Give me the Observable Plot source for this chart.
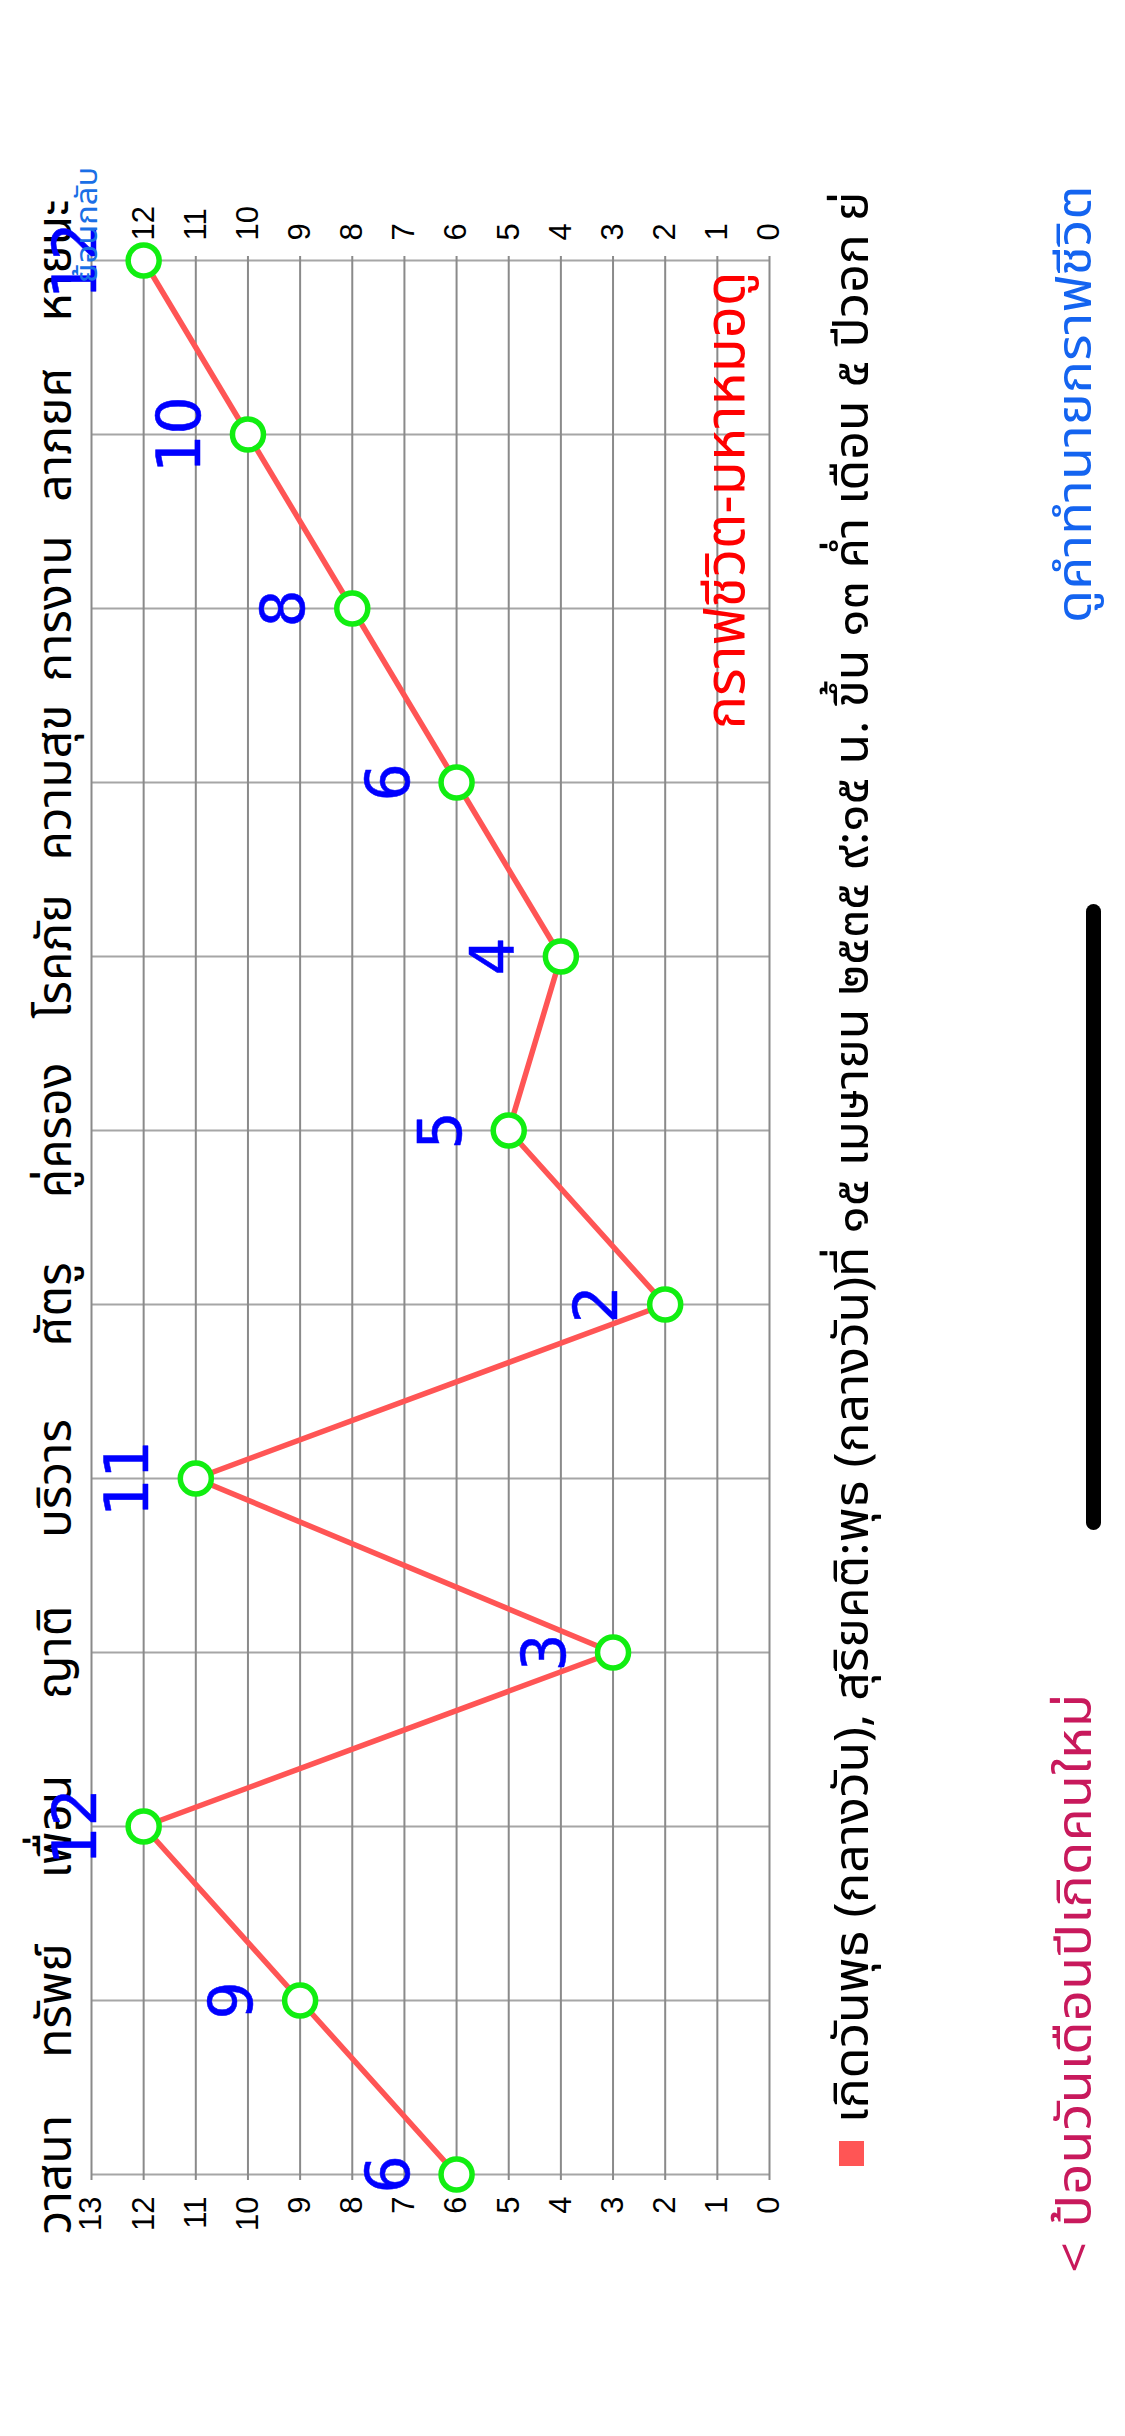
<!DOCTYPE html>
<html>
<head>
<meta charset="utf-8">
<script src="https://cdn.jsdelivr.net/npm/d3@7"></script>
<script src="https://cdn.jsdelivr.net/npm/@observablehq/plot@0.6"></script>
<style>
  html, body { margin: 0; padding: 0; background: #fff; }
  body { width: 1125px; height: 2436px; overflow: hidden; position: relative; }
  #stage {
    position: absolute; left: 0; top: 0; width: 2436px; height: 1125px;
    transform-origin: 0 0; transform: translateY(2436px) rotate(-90deg);
    font-family: "Noto Sans Thai", "Noto Sans", "DejaVu Sans", sans-serif;
    background: #fff;
  }
  #chart { position: absolute; left: 0; top: 0; }
  .ov { position: absolute; white-space: nowrap; font-size: 48px; line-height: 48px; height: 48px; }
  .ov span { display: inline-block; transform-origin: 0 50%; white-space: nowrap; }
  #swatch { position: absolute; left: 270px; top: 839px; width: 25px; height: 25px; background: #ff5555; }
  #legend { left: 313px; top: 800px; padding-top: 30px; height: 100px; width: 1933px; overflow: hidden; color: #000; }
  #back { left: 2153px; top: 72px; font-size: 31px; line-height: 31px; height: 31px; color: #1a6fe6; }
  #newbirth { left: 163px; top: 1053px; color: #c8195c; }
  #reading { left: 1813px; top: 1053px; color: #1464f0; }
  #home { position: absolute; left: 906px; top: 1086px; width: 626px; height: 15px; border-radius: 8px; background: #000; }
</style>
</head>
<body>
<div id="stage">
  <div id="chart"></div>
  <div id="swatch"></div>
  <div id="legend" class="ov"><span id="legendText"></span></div>
  <div id="back" class="ov"><span id="backText"></span></div>
  <div id="newbirth" class="ov"><span id="newText"></span></div>
  <div id="reading" class="ov"><span id="readText"></span></div>
  <div id="home"></div>
</div>
<script>
const categories = ["วาสนา","ทรัพย์","เพื่อน","ญาติ","บริวาร","ศัตรู","คู่ครอง","โรคภัย","ความสุข","การงาน","ลาภยศ","หายนะ"];
const values = [6, 9, 12, 3, 11, 2, 5, 4, 6, 8, 10, 12];
const leftTicks = [0,1,2,3,4,5,6,7,8,9,10,11,12,13];
const rightTicks = [0,1,2,3,4,5,6,7,8,9,10,11,12];
const chartTitle = "กราฟชีวิต-มหาหมอดู";
const legendText = "เกิดวันพุธ (กลางวัน), สุริยคติ:พุธ (กลางวัน)ที่ ๑๕ เมษายน ๒๕๓๕ ๙:๑๕ น. ขึ้น ๑๓ ค่ำ เดือน ๕ ปีวอก ย่";
const backLabel = "ย้อนกลับ";
const newBirthLabel = "< ป้อนวันเดือนปีเกิดคนใหม่";
const readingLabel = "ดูคำทำนายกราฟชีวิต";

const data = categories.map((c, i) => ({cat: c, val: values[i]}));
const thai = '"Noto Sans Thai", "Noto Sans", "DejaVu Sans", sans-serif';
const num = '"Liberation Sans", Arial, sans-serif';

const chart = Plot.plot({
  width: 2436,
  height: 800,
  marginLeft: 256,
  marginRight: 256,
  marginTop: 91,
  marginBottom: 31,
  style: {background: "#fff", overflow: "visible"},
  x: {type: "point", domain: categories, padding: 0},
  y: {domain: [0, 13]},
  marks: [
    Plot.gridX(categories, {stroke: "#a6a6a6", strokeWidth: 2, strokeOpacity: 1}),
    Plot.gridY(leftTicks, {stroke: "#8a8a8a", strokeWidth: 2, strokeOpacity: 1}),
    Plot.axisX(categories, {anchor: "top", tickSize: 0, tickPadding: 21, fontSize: 48, fontFamily: thai, fill: "#000", label: null}),
    Plot.axisY(leftTicks, {anchor: "left", tickSize: 0, tickPadding: 17, fontSize: 31, fontFamily: num, fill: "#000", label: null, tickFormat: "d"}),
    Plot.axisY(rightTicks, {anchor: "right", tickSize: 0, tickPadding: 15, fontSize: 31, fontFamily: num, fill: "#000", label: null, tickFormat: "d"}),
    Plot.text([chartTitle], {frameAnchor: "bottom-right", dx: -16, dy: -26, fill: "#ff0000", fontSize: 56, fontFamily: thai, textAnchor: "end", lineAnchor: "bottom"}),
    Plot.line(data, {x: "cat", y: "val", stroke: "#ff5555", strokeWidth: 5.5}),
    Plot.dot(data, {x: "cat", y: "val", r: 15.5, stroke: "#11ee11", strokeWidth: 5.5, fill: "#fff"}),
    Plot.text(data, {x: "cat", y: "val", text: d => String(d.val), dy: -67, fill: "#0000ff", stroke: "#0000ff", strokeWidth: 0.5, fontSize: 60, fontFamily: '"DejaVu Sans", sans-serif', ariaLabel: "annotations"})
  ]
});
document.getElementById("chart").appendChild(chart);

// HTML texts
document.getElementById("legendText").textContent = legendText;
document.getElementById("backText").textContent = backLabel;
document.getElementById("newText").textContent = newBirthLabel;
document.getElementById("readText").textContent = readingLabel;

// widen Thai glyphs to the proportions of the original's Thai face
function fit(id, target) {
  const el = document.getElementById(id);
  const w = el.offsetWidth;
  if (w > 0) el.style.transform = `scaleX(${target / w})`;
}
fit("legendText", 1931);
fit("backText", 116);
fit("newText", 579);
fit("readText", 438);

// rough, hand-drawn look for the blue numbers
try {
  const svg = d3.select(chart);
  const defs = svg.insert("defs", ":first-child");
  const flt = defs.append("filter").attr("id", "rough").attr("x", "-20%").attr("y", "-20%").attr("width", "140%").attr("height", "140%");
  flt.append("feTurbulence").attr("type", "fractalNoise").attr("baseFrequency", 0.9).attr("numOctaves", 1).attr("seed", 4).attr("result", "n");
  flt.append("feDisplacementMap").attr("in", "SourceGraphic").attr("in2", "n").attr("scale", 3.5).attr("xChannelSelector", "R").attr("yChannelSelector", "G");
  svg.selectAll('g[aria-label="annotations"]').attr("filter", "url(#rough)");
} catch (e) {}
</script>
</body>
</html>
